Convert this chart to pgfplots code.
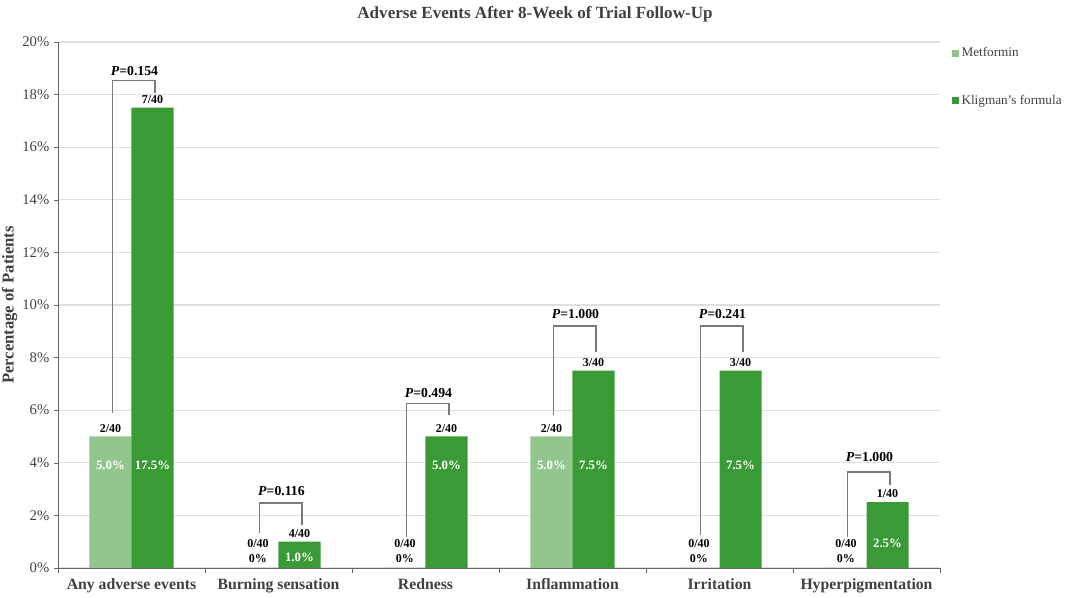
\documentclass[border=0pt]{standalone}
\usepackage{pgfplots}
\pgfplotsset{compat=1.18}
\usepackage{fontspec}
\setmainfont{Liberation Serif}
\definecolor{metc}{HTML}{93C68F}
\definecolor{kligc}{HTML}{3A9A36}
\definecolor{txtc}{HTML}{404040}
\definecolor{brc}{HTML}{7A7A7A}
\begin{document}
\begin{tikzpicture}[x=1pt,y=1pt]
\useasboundingbox (-43.5pt,-22.5pt) rectangle (755.25pt,426pt);
\begin{axis}[
  at={(0,0)}, anchor=south west,
  scale only axis, width=661.5pt, height=394.5pt,
  ybar, bar width=0.286,
  xmin=-0.5, xmax=5.5, ymin=0, ymax=20,
  axis x line*=bottom, axis y line*=left,
  axis line style={draw=txtc!80},
  xtick={0,...,5},
  xticklabels={Any adverse events,Burning sensation,Redness,Inflammation,Irritation,Hyperpigmentation},
  xticklabel style={font=\fontsize{11.8}{13}\selectfont\bfseries, text=txtc, yshift=-1.5pt},
  major x tick style={draw=none},
  minor xtick={-0.5,0.5,...,5.5},
  minor x tick style={draw=txtc!80},
  minor tick length=4pt,
  ytick={0,2,...,20},
  yticklabel={\pgfmathprintnumber{\tick}\%},
  yticklabel style={font=\fontsize{11}{13}\selectfont, text=txtc},
  /pgf/number format/assume math mode=true,
  y tick style={draw=txtc!80},
  tick align=outside, major tick length=3pt,
  ymajorgrids, grid style={draw=gray!25, line width=0.8pt},
  ylabel={Percentage of Patients},
  ylabel style={font=\fontsize{12.5}{14}\selectfont\bfseries, text=txtc, yshift=-3pt},
  title={Adverse Events After 8-Week of Trial Follow-Up},
  title style={font=\fontsize{12.8}{14}\selectfont\bfseries, text=txtc, yshift=5pt, xshift=27pt},
  legend style={at={(1.009,1.0)}, anchor=north west, draw=none, fill=none,
    font=\fontsize{9.9}{11}\selectfont, text=txtc, row sep=23pt, cells={anchor=west}},
  legend image code/.code={\fill[#1] (0pt,-2.5pt) rectangle (5pt,2.5pt);},
  clip=false,
]
\addplot[fill=metc, draw=none, bar shift=-0.143] coordinates {(0,5.0) (1,0) (2,0) (3,5.0) (4,0) (5,0)};
\addplot[fill=kligc, draw=none, bar shift=0.143] coordinates {(0,17.5) (1,1.0) (2,5.0) (3,7.5) (4,7.5) (5,2.5)};
\legend{Metformin,Kligman's formula}

\tikzset{cnt/.style={font=\fontsize{9}{10}\selectfont\bfseries, text=black}}
\tikzset{inb/.style={font=\fontsize{9.6}{10}\selectfont\bfseries, text=white}}
\tikzset{pv/.style={font=\fontsize{10.3}{11}\selectfont\bfseries, text=black}}
% count labels above bars
\node[cnt] at (axis cs:-0.143,5.32) {2/40};
\node[cnt] at (axis cs:0.143,17.82) {7/40};
\node[cnt] at (axis cs:0.86,0.92) {0/40};
\node[cnt] at (axis cs:0.86,0.35) {0\%};
\node[cnt] at (axis cs:1.143,1.32) {4/40};
\node[cnt] at (axis cs:1.86,0.92) {0/40};
\node[cnt] at (axis cs:1.86,0.35) {0\%};
\node[cnt] at (axis cs:2.143,5.32) {2/40};
\node[cnt] at (axis cs:2.857,5.32) {2/40};
\node[cnt] at (axis cs:3.143,7.82) {3/40};
\node[cnt] at (axis cs:3.86,0.92) {0/40};
\node[cnt] at (axis cs:3.86,0.35) {0\%};
\node[cnt] at (axis cs:4.143,7.82) {3/40};
\node[cnt] at (axis cs:4.86,0.92) {0/40};
\node[cnt] at (axis cs:4.86,0.35) {0\%};
\node[cnt] at (axis cs:5.143,2.82) {1/40};
% labels inside bars
\node[inb] at (axis cs:-0.143,3.9) {5.0\%};
\node[inb] at (axis cs:0.143,3.9) {17.5\%};
\node[inb] at (axis cs:1.143,0.42) {1.0\%};
\node[inb] at (axis cs:2.143,3.9) {5.0\%};
\node[inb] at (axis cs:2.857,3.9) {5.0\%};
\node[inb] at (axis cs:3.143,3.9) {7.5\%};
\node[inb] at (axis cs:4.143,3.9) {7.5\%};
\node[inb] at (axis cs:5.143,0.95) {2.5\%};
% brackets
\draw[brc, line width=0.8pt] (axis cs:-0.13,5.9) |- (axis cs:0.16,18.52) -- (axis cs:0.16,18.06);
\draw[brc, line width=0.8pt] (axis cs:0.87,1.33) |- (axis cs:1.16,2.47) -- (axis cs:1.16,1.63);
\draw[brc, line width=0.8pt] (axis cs:1.87,1.18) |- (axis cs:2.16,6.27) -- (axis cs:2.16,5.8);
\draw[brc, line width=0.8pt] (axis cs:2.87,5.8) |- (axis cs:3.16,9.2) -- (axis cs:3.16,8.2);
\draw[brc, line width=0.8pt] (axis cs:3.87,1.25) |- (axis cs:4.16,9.2) -- (axis cs:4.16,8.2);
\draw[brc, line width=0.8pt] (axis cs:4.87,1.18) |- (axis cs:5.16,3.65) -- (axis cs:5.16,3.16);
% p values
\node[pv] at (axis cs:0.02,18.9) {\textit{P}=0.154};
\node[pv] at (axis cs:1.02,2.93) {\textit{P}=0.116};
\node[pv] at (axis cs:2.02,6.67) {\textit{P}=0.494};
\node[pv] at (axis cs:3.02,9.66) {\textit{P}=1.000};
\node[pv] at (axis cs:4.02,9.66) {\textit{P}=0.241};
\node[pv] at (axis cs:5.02,4.2) {\textit{P}=1.000};
\end{axis}
\end{tikzpicture}
\end{document}
